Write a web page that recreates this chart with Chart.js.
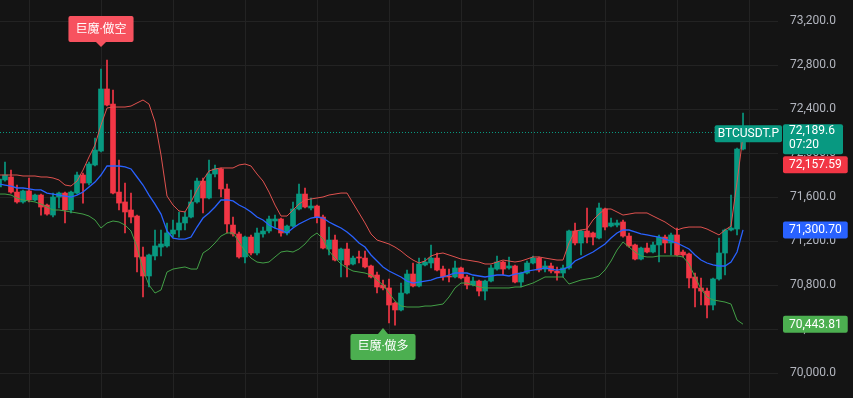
<!DOCTYPE html>
<html>
<head>
<meta charset="utf-8">
<script src="https://cdn.jsdelivr.net/npm/chart.js@4/dist/chart.umd.min.js"></script>
<style>
  html, body { margin: 0; padding: 0; background: #141414; overflow: hidden; }
  #c { display: block; }
</style>
</head>
<body>
<canvas id="c" width="853" height="398"></canvas>
<script>
// K线数据 (BTCUSDT.P)
const opens = [71691,71755,71782,71645,71555,71655,71573,71618,71527,71436,
  71600,71636,71482,71636,71800,71727,71891,72018,72582,72445,
  71645,71555,71482,71427,71055,70882,71064,71145,71155,71264,
  71300,71364,71418,71555,71745,71591,71809,71855,71673,71345,
  71264,71055,71236,71091,71264,71291,71382,71400,71273,71336,
  71491,71627,71500,71518,71418,71127,71209,71027,71127,70991,
  71055,71045,70973,70891,70800,70773,70636,70573,70727,70900,
  70791,70982,71000,71045,70945,70882,70873,70955,70873,70800,
  70836,70745,70836,70945,71009,70955,70973,70827,70909,71000,
  71045,70945,70973,70927,70909,70955,71291,71182,71291,71273,
  71227,71491,71336,71345,71373,71245,71164,71036,71136,71100,
  71164,71236,71182,71255,71100,71082,70873,70773,70745,70618,
  70855,71091,71300,71309,72036];
const highs = [71791,71918,71845,71709,71664,71773,71627,71627,71536,71636,
  71645,71645,71655,71827,71818,71918,72136,72764,72845,72573,
  71936,71727,71636,71436,71145,71082,71300,71300,71364,71391,
  71464,71464,71664,71773,71773,71936,71891,71864,71718,71418,
  71282,71245,71255,71318,71327,71427,71436,71409,71345,71555,
  71718,71682,71591,71527,71436,71327,71255,71136,71182,71064,
  71109,71109,70982,70918,70845,70855,70645,70818,70936,71000,
  71045,71045,71164,71091,70973,70945,71018,70964,70891,70873,
  70845,70845,70982,71064,71018,71055,70982,70918,71018,71064,
  71055,71018,71000,70964,70982,71300,71364,71300,71500,71282,
  71545,71500,71409,71391,71391,71273,71173,71145,71182,71191,
  71255,71255,71273,71318,71118,71091,70909,70864,70773,70864,
  71227,71309,71618,72045,72364];
const lows = [71673,71745,71636,71545,71545,71555,71564,71436,71436,71418,
  71500,71364,71455,71627,71545,71709,71882,72009,72427,71627,
  71482,71273,71364,70918,70691,70782,71027,71064,71145,71236,
  71236,71300,71409,71545,71455,71582,71782,71600,71273,71245,
  71045,71000,71073,71073,71236,71273,71318,71245,71255,71327,
  71482,71500,71482,71364,71127,71073,71018,70873,70873,70982,
  71000,70955,70864,70727,70755,70455,70436,70564,70718,70782,
  70782,70973,70955,70927,70845,70827,70864,70855,70764,70791,
  70700,70664,70827,70936,70891,70945,70818,70782,70900,70991,
  70918,70918,70909,70845,70873,70945,71164,71073,71182,71164,
  71218,71300,71327,71327,71236,71145,71027,71027,71091,71091,
  71009,71091,71073,71064,71055,70773,70600,70618,70500,70573,
  70845,70891,71291,71255,72027];
const closes = [71764,71800,71645,71555,71655,71573,71618,71509,71445,71600,
  71636,71482,71645,71800,71727,71900,72027,72582,72436,71636,
  71545,71464,71418,71055,70882,71073,71155,71173,71273,71300,
  71364,71418,71555,71745,71591,71809,71855,71673,71355,71264,
  71055,71236,71091,71273,71291,71400,71400,71273,71336,71491,
  71627,71509,71518,71418,71136,71209,71027,71127,70982,71045,
  71045,70964,70873,70782,70773,70618,70573,70727,70900,70791,
  70991,71009,71045,70936,70873,70873,70955,70864,70800,70836,
  70745,70836,70955,71009,70945,70973,70827,70909,71000,71045,
  70936,70973,70927,70909,70955,71291,71182,71291,71236,71236,
  71500,71327,71364,71364,71245,71155,71036,71136,71100,71164,
  71236,71182,71255,71073,71073,70864,70773,70745,70618,70855,
  71091,71300,71318,72036,72189.6];

// 布林带
const upper = [71800,71800,71800,71800,71791,71791,71791,71782,71782,71773,
  71755,71709,71700,71745,71845,71964,72073,72255,72409,72418,
  72418,72418,72427,72455,72482,72445,72282,71982,71609,71527,
  71473,71464,71555,71664,71755,71836,71855,71864,71864,71864,
  71891,71900,71882,71809,71745,71645,71527,71427,71427,71482,
  71536,71573,71582,71591,71600,71618,71627,71636,71636,71545,
  71455,71364,71264,71209,71191,71173,71145,71109,71064,71027,
  71000,71018,71064,71082,71091,71073,71055,71036,71027,71018,
  71009,70991,70991,71009,71027,71018,71009,71018,71036,71055,
  71055,71045,71036,71027,71027,71182,71291,71300,71309,71391,
  71445,71491,71491,71464,71436,71445,71455,71455,71455,71427,
  71400,71373,71336,71300,71318,71327,71327,71327,71309,71282,
  71255,71300,71336,71736,72157.59];
const middle = [71718,71709,71700,71682,71682,71673,71664,71664,71636,71627,
  71618,71609,71600,71618,71645,71691,71736,71800,71882,71882,
  71882,71873,71855,71782,71709,71618,71536,71445,71291,71227,
  71218,71218,71236,71327,71409,71455,71509,71573,71573,71564,
  71527,71500,71464,71418,71391,71345,71318,71300,71273,71318,
  71355,71382,71409,71418,71409,71373,71345,71318,71282,71236,
  71182,71145,71073,71018,70964,70927,70900,70873,70836,70818,
  70827,70836,70845,70864,70873,70891,70909,70909,70909,70891,
  70882,70873,70882,70891,70891,70882,70900,70909,70927,70936,
  70945,70955,70945,70936,70945,70964,71018,71045,71073,71100,
  71136,71173,71227,71273,71300,71300,71282,71264,71255,71245,
  71236,71218,71200,71182,71155,71127,71073,71027,71000,70982,
  70973,70973,71009,71100,71300.70];
const lower = [71627,71627,71618,71591,71573,71564,71555,71536,71509,71482,
  71482,71473,71464,71455,71445,71427,71391,71318,71364,71382,
  71373,71345,71291,71145,70936,70800,70727,70755,70918,70945,
  70955,70964,70945,70945,71091,71127,71182,71245,71273,71273,
  71191,71109,71045,71009,71000,71009,71055,71100,71109,71100,
  71127,71173,71236,71273,71218,71109,71045,70991,70955,70927,
  70918,70909,70891,70845,70800,70727,70655,70609,70600,70600,
  70600,70609,70609,70618,70627,70691,70773,70818,70818,70800,
  70782,70773,70773,70773,70773,70773,70782,70782,70800,70818,
  70845,70873,70873,70873,70873,70809,70827,70845,70855,70864,
  70882,70936,71018,71118,71191,71145,71100,71064,71055,71055,
  71064,71064,71064,71064,71055,70991,70873,70764,70691,70664,
  70655,70645,70627,70482,70443.81];

const yTicks = [70000, 70400, 70800, 71200, 71600, 72000, 72400, 72800, 73200];
const xGridIdx = [5, 17, 29, 41, 53, 65, 77, 89, 101, 113, 125];
const markerIdx = [17, 64];
const markerSide = ['sell', 'buy'];
const markerText = ['巨魔·做空', '巨魔·做多'];
const symbolName = 'BTCUSDT.P';
const countdown = '07:20';

const UP = '#089981', DOWN = '#f23645';
const candleColors = closes.map((c, i) => c >= opens[i] ? UP : DOWN);
const lastPrice = closes[closes.length - 1];

const fmt = (v, d) => v.toLocaleString('en-US', { minimumFractionDigits: d, maximumFractionDigits: d });

function box(ctx, x, y, w, h, color) {
  ctx.fillStyle = color;
  ctx.beginPath();
  ctx.roundRect(x, y, w, h, 2);
  ctx.fill();
}

// 去掉坐标轴自带的留白, 让绘图区铺满画布
function noPad(s) {
  s.paddingTop = 0; s.paddingBottom = 0; s.paddingLeft = 0; s.paddingRight = 0;
}

const overlay = {
  id: 'overlay',
  beforeDatasetsDraw(chart) {
    const { ctx, chartArea, scales: { y } } = chart;
    const py = Math.round(y.getPixelForValue(lastPrice)) + 0.5;
    ctx.save();
    ctx.strokeStyle = UP;
    ctx.lineWidth = 1;
    ctx.setLineDash([1, 2]);
    ctx.beginPath();
    ctx.moveTo(chartArea.left, py);
    ctx.lineTo(chartArea.right, py);
    ctx.stroke();
    ctx.restore();
  },
  afterDraw(chart) {
    const { ctx, chartArea, scales: { x, y } } = chart;
    const left = chartArea.right + 5;
    ctx.save();
    ctx.textBaseline = 'middle';
    ctx.font = '12px Roboto, sans-serif';

    // 当前价格
    const py = y.getPixelForValue(lastPrice);
    const priceTop = py - 8, priceH = 30;
    box(ctx, left, priceTop, 60, priceH, UP);
    ctx.fillStyle = '#ffffff';
    ctx.textAlign = 'left';
    ctx.fillText(fmt(lastPrice, 1), left + 6, py - 1);
    ctx.fillText(countdown, left + 6, py + 12.5);

    // 品种名
    const sw = ctx.measureText(symbolName).width + 6;
    box(ctx, chartArea.right + 4 - sw, py - 7, sw, 17, UP);
    ctx.fillStyle = '#ffffff';
    ctx.textAlign = 'center';
    ctx.fillText(symbolName, chartArea.right + 4 - sw / 2, py + 1.5);

    // 布林带数值
    const last = closes.length - 1;
    const bands = [[upper[last], DOWN], [middle[last], '#2962ff'], [lower[last], '#4caf50']];
    const minTop = priceTop + priceH + 2;
    bands.forEach(([v, col]) => {
      let top = y.getPixelForValue(v) - 8.5;
      if (top < minTop && top > priceTop - 17) top = minTop;
      const t = fmt(v, 2);
      const w = ctx.measureText(t).width + 12;
      box(ctx, left, top, w, 17, col);
      ctx.fillStyle = '#ffffff';
      ctx.textAlign = 'left';
      ctx.fillText(t, left + 6, top + 9);
    });

    // 信号标记
    ctx.font = '12px Roboto, "Noto Sans CJK SC", sans-serif';
    markerIdx.forEach((idx, n) => {
      const cx = x.getPixelForValue(idx);
      const w = ctx.measureText(markerText[n]).width + 14, h = 26;
      const nb = [idx - 1, idx, idx + 1];
      let tip, bTop;
      if (markerSide[n] === 'sell') {
        tip = y.getPixelForValue(Math.max(...nb.map(i => highs[i]))) - 13;
        bTop = tip - 5 - h;
        box(ctx, cx - w / 2, bTop, w, h, '#f7525f');
        ctx.beginPath();
        ctx.moveTo(cx - 5, bTop + h); ctx.lineTo(cx + 5, bTop + h); ctx.lineTo(cx, tip);
        ctx.fill();
      } else {
        tip = y.getPixelForValue(Math.min(...nb.map(i => lows[i]))) + 5;
        bTop = tip + 6;
        box(ctx, cx - w / 2, bTop, w, h, '#4caf50');
        ctx.beginPath();
        ctx.moveTo(cx - 5, bTop); ctx.lineTo(cx + 5, bTop); ctx.lineTo(cx, tip);
        ctx.fill();
      }
      ctx.fillStyle = '#ffffff';
      ctx.textAlign = 'center';
      ctx.fillText(markerText[n], cx, bTop + h / 2 + 0.5);
    });
    ctx.restore();
  }
};

const idx = closes.map((_, i) => i);

new Chart(document.getElementById('c'), {
  type: 'bar',
  data: {
    datasets: [
      {
        type: 'line', order: 0, data: idx.map(i => ({ x: i, y: upper[i] })),
        borderColor: '#e0524f', borderWidth: 1, pointRadius: 0, pointHoverRadius: 0, tension: 0
      },
      {
        type: 'line', order: 0, data: idx.map(i => ({ x: i, y: middle[i] })),
        borderColor: '#2962ff', borderWidth: 1.3, pointRadius: 0, pointHoverRadius: 0, tension: 0
      },
      {
        type: 'line', order: 0, data: idx.map(i => ({ x: i, y: lower[i] })),
        borderColor: '#43a047', borderWidth: 1, pointRadius: 0, pointHoverRadius: 0, tension: 0
      },
      {
        order: 1, grouped: false, barThickness: 5, minBarLength: 1,
        data: idx.map(i => ({ x: i, y: [opens[i], closes[i]] })),
        backgroundColor: candleColors
      },
      {
        order: 2, grouped: false, barThickness: 1,
        data: idx.map(i => ({ x: i, y: [lows[i], highs[i]] })),
        backgroundColor: candleColors
      }
    ]
  },
  options: {
    responsive: false,
    animation: false,
    devicePixelRatio: 1,
    layout: { padding: 0, autoPadding: false },
    plugins: { legend: { display: false }, tooltip: { enabled: false } },
    scales: {
      x: {
        type: 'linear', min: 1 / 6, max: 129.83, offset: false,
        grid: { color: '#232323', drawTicks: false, offset: false },
        border: { display: false },
        ticks: { display: false },
        afterBuildTicks: s => { s.ticks = xGridIdx.map(v => ({ value: v })); },
        afterFit: s => { s.height = 0; noPad(s); }
      },
      y: {
        position: 'right', min: 69772.8, max: 73391, beginAtZero: false,
        grid: { color: '#232323', drawTicks: false },
        border: { display: false },
        ticks: {
          color: '#b2b5be', padding: 12,
          font: { family: 'Roboto', size: 12 },
          callback: v => fmt(v, 1)
        },
        afterBuildTicks: s => { s.ticks = yTicks.map(v => ({ value: v })); },
        afterFit: s => { s.width = 75; noPad(s); }
      }
    }
  },
  plugins: [overlay]
});
</script>
</body>
</html>
